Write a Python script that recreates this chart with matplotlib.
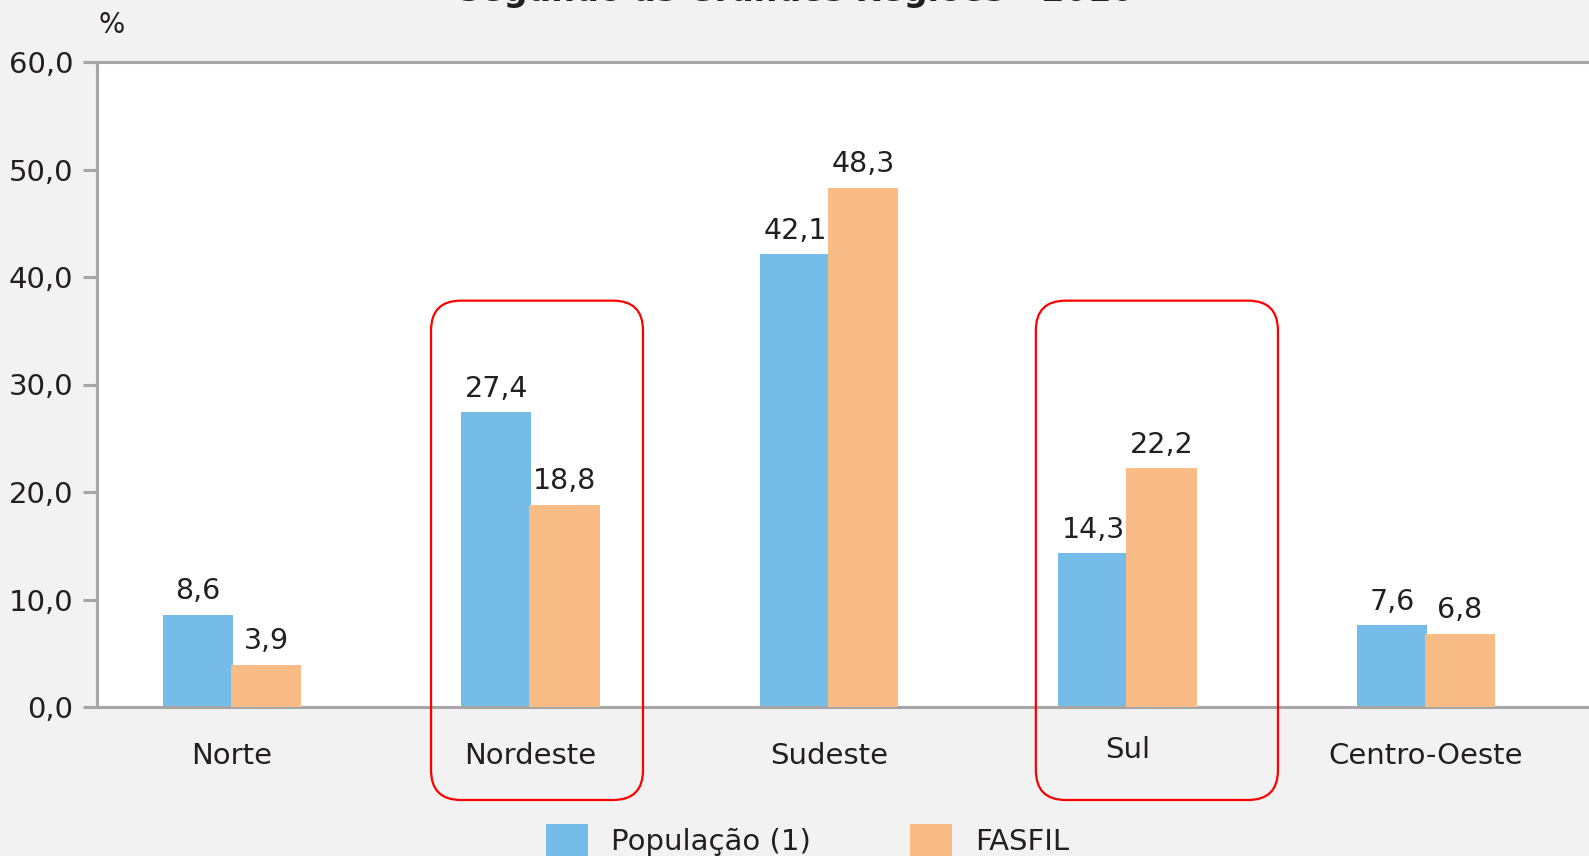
import matplotlib.pyplot as plt
import matplotlib.patches as patches
import matplotlib.transforms as mtransforms
import numpy as np

# data
regioes = ["Norte", "Nordeste", "Sudeste", "Sul", "Centro-Oeste"]
populacao = [8.6, 27.4, 42.1, 14.3, 7.6]
fasfil = [3.9, 18.8, 48.3, 22.2, 6.8]
yticks = [0, 10, 20, 30, 40, 50, 60]
destaque = ["Nordeste", "Sul"]

azul = "#75bde8"
laranja = "#f9bc87"
cinza = "#a6a6a6"
texto = "#231f20"
fundo = "#f2f2f2"

plt.rcParams['font.family'] = ['DejaVu Sans']

fig = plt.figure(figsize=(15.89, 8.56), dpi=100, facecolor=fundo)
ax = fig.add_axes([97/1589, 1 - 707/856, 1 - 97/1589, (707 - 62)/856])
ax.set_facecolor("white")

x = np.arange(len(regioes))
w = 0.235
off = 0.114
b1 = ax.bar(x - off, populacao, w, color=azul, label="População (1)", zorder=2)
b2 = ax.bar(x + off, fasfil, w, color=laranja, label="FASFIL", zorder=3)

fmt = lambda v: f"{v:.1f}".replace(".", ",")
ax.bar_label(b1, labels=[fmt(v) for v in populacao], padding=7, fontsize=20.5, color=texto)
ax.bar_label(b2, labels=[fmt(v) for v in fasfil], padding=7, fontsize=20.5, color=texto)

ax.set_xlim(-0.452, 4.546)
ax.set_ylim(0, 60)
ax.set_yticks(yticks)
ax.set_yticklabels([fmt(v) for v in yticks], fontsize=21, color=texto)
ax.set_xticks(x)
ax.set_xticklabels(regioes, fontsize=21, color=texto)
ax.tick_params(axis="y", length=10, width=2.2, color=cinza, pad=7)
ax.tick_params(axis="x", length=0, pad=25)

for s in ["left", "top", "bottom"]:
    ax.spines[s].set_color(cinza)
    ax.spines[s].set_linewidth(2.2)
ax.spines["right"].set_visible(False)

# Sul label sits a bit higher
for lab in ax.get_xticklabels():
    if lab.get_text() == "Sul":
        lab.set_transform(lab.get_transform() + mtransforms.ScaledTranslation(0, 6/100, fig.dpi_scale_trans))

# red rounded boxes
ppx = 298.5   # px per x unit
ppy = 10.75   # px per y unit
boxes = {"Nordeste": (-0.333, 0.377), "Sul": (-0.307, 0.504)}
for nome in destaque:
    i = regioes.index(nome)
    x0, x1 = boxes[nome]
    y0, y1 = -8.65, 37.8
    r = patches.FancyBboxPatch((i + x0, y0), x1 - x0, y1 - y0,
                               boxstyle="round,pad=0,rounding_size=0.1",
                               mutation_aspect=ppx / ppy,
                               facecolor="none", edgecolor="#ff0000",
                               linewidth=1.6, clip_on=False, zorder=5)
    ax.add_patch(r)

fig.text(112/1589, 1 - 25/856, "%", fontsize=20, color=texto, ha="center", va="center")
fig.text(796/1589, 1 - 1/856, "Segundo as Grandes Regiões - 2010", fontsize=24,
         fontweight="bold", color=texto, ha="center", va="baseline")

fig.legend(handles=[b1, b2], loc="upper left", bbox_to_anchor=(531/1589, 1 - 809/856),
           ncol=2, frameon=False, fontsize=21, borderpad=0, handlelength=1.44,
           handleheight=1.44, handletextpad=0.79, columnspacing=3.42, labelcolor=texto)

fig.savefig("out.png", dpi=100, facecolor=fundo)
